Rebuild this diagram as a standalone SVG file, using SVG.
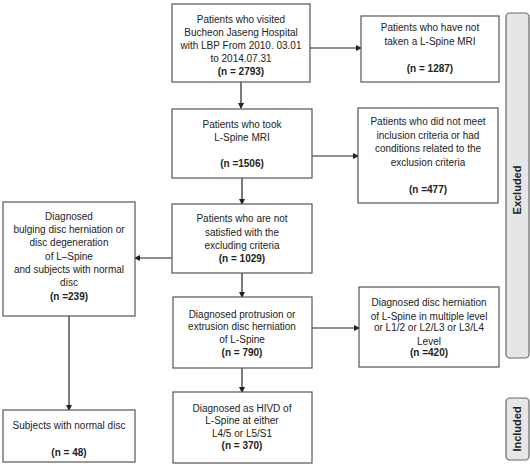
<svg xmlns="http://www.w3.org/2000/svg" width="530" height="466" viewBox="0 0 530 466">
<defs>
<marker id="ah" markerWidth="6" markerHeight="6" refX="5" refY="3" orient="auto" markerUnits="userSpaceOnUse">
<path d="M0,0 L6,3 L0,6 z" fill="#222"/>
</marker>
<style>
.box{fill:#fff;stroke:#555;stroke-width:1.2}
.side{fill:#e6e6e6;stroke:#666;stroke-width:1.2}
text{font-family:"Liberation Sans",Arial,sans-serif;font-size:10px;fill:#222;text-anchor:middle}
.b{font-weight:bold}
.lab{font-weight:bold;font-size:11px}
.c{stroke:#222;stroke-width:1.2;fill:none;marker-end:url(#ah)}
.l{stroke:#222;stroke-width:1.2;fill:none}
</style>
</defs>
<g id="connectors">
<line class="c" x1="241" y1="82" x2="241" y2="108"/>
<line class="c" x1="242" y1="178" x2="242" y2="204"/>
<line class="c" x1="242" y1="273" x2="242" y2="297"/>
<line class="c" x1="242" y1="368" x2="242" y2="392"/>
<line class="c" x1="69" y1="316" x2="69" y2="410"/>
<line class="c" x1="310" y1="48" x2="361" y2="48"/>
<line class="c" x1="312" y1="156" x2="358" y2="156"/>
<line class="c" x1="172" y1="258" x2="135" y2="258"/>
<line class="c" x1="312" y1="328" x2="359" y2="328"/>
</g>
<g id="n1">
<rect class="box" x="172" y="4" width="138" height="78"/>
<text x="241" y="23">Patients who visited</text>
<text x="241" y="36">Bucheon Jaseng Hospital</text>
<text x="241" y="49">with LBP From 2010. 03.01</text>
<text x="241" y="62">to 2014.07.31</text>
<text class="b" x="241" y="75">(n = 2793)</text>
</g>
<g id="n2">
<rect class="box" x="361" y="16" width="138" height="66"/>
<text x="430" y="31">Patients who have not</text>
<text x="430" y="45">taken a L-Spine MRI</text>
<text class="b" x="430" y="72">(n = 1287)</text>
</g>
<g id="n3">
<rect class="box" x="172" y="109" width="140" height="69"/>
<text x="242" y="128">Patients who took</text>
<text x="242" y="141">L-Spine MRI</text>
<text class="b" x="242" y="167">(n =1506)</text>
</g>
<g id="n4">
<rect class="box" x="358" y="108" width="140" height="95"/>
<text x="428" y="125">Patients who did not meet</text>
<text x="428" y="139">inclusion criteria or had</text>
<text x="428" y="152">conditions related to the</text>
<text x="428" y="166">exclusion criteria</text>
<text class="b" x="428" y="193">(n =477)</text>
</g>
<g id="n5">
<rect class="box" x="172" y="204" width="140" height="69"/>
<text x="242" y="222">Patients who are not</text>
<text x="242" y="236">satisfied with the</text>
<text x="242" y="249">excluding criteria</text>
<text class="b" x="242" y="262">(n =  1029)</text>
</g>
<g id="n6">
<rect class="box" x="3" y="202" width="132" height="114"/>
<text x="69" y="220">Diagnosed</text>
<text x="69" y="233">bulging disc herniation or</text>
<text x="69" y="246">disc degeneration</text>
<text x="69" y="260">of L–Spine</text>
<text x="69" y="273">and subjects with normal</text>
<text x="69" y="286">disc</text>
<text class="b" x="69" y="300">(n =239)</text>
</g>
<g id="n7">
<rect class="box" x="173" y="297" width="139" height="71"/>
<text x="242" y="318">Diagnosed protrusion or</text>
<text x="242" y="330">extrusion disc herniation</text>
<text x="242" y="343">of L-Spine</text>
<text class="b" x="242" y="356">(n = 790)</text>
</g>
<g id="n8">
<rect class="box" x="359" y="287" width="140" height="80"/>
<text x="429" y="306">Diagnosed disc herniation</text>
<text x="429" y="320">of L-Spine in multiple level</text>
<text x="429" y="331">or L1/2 or L2/L3 or L3/L4</text>
<text x="429" y="345">Level</text>
<text class="b" x="429" y="356">(n =420)</text>
</g>
<g id="n9">
<rect class="box" x="173" y="392" width="139" height="71"/>
<text x="242" y="412">Diagnosed as HIVD of</text>
<text x="242" y="424">L-Spine at either</text>
<text x="242" y="437">L4/5 or L5/S1</text>
<text class="b" x="242" y="449">(n = 370)</text>
</g>
<g id="n10">
<rect class="box" x="3" y="410" width="132" height="52"/>
<text x="69" y="429">Subjects with normal disc</text>
<text class="b" x="69" y="456">(n = 48)</text>
</g>
<g id="excluded">
<rect class="side" x="506" y="13" width="23" height="345" rx="4"/>
<text class="lab" transform="translate(521,190) rotate(-90)">Excluded</text>
</g>
<g id="included">
<rect class="side" x="506" y="398" width="23" height="62" rx="4"/>
<text class="lab" transform="translate(521,429) rotate(-90)">Included</text>
</g>
</svg>
